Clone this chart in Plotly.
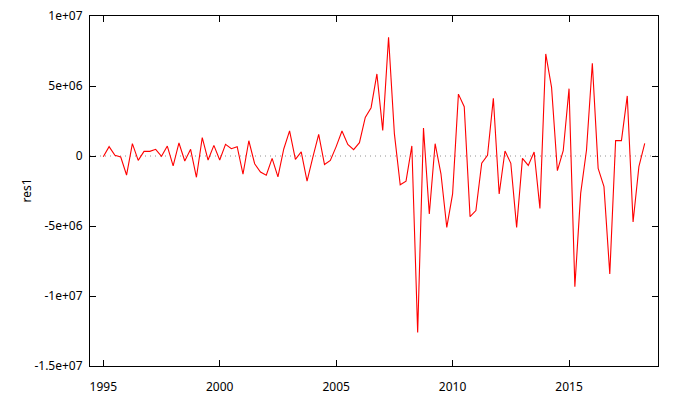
import plotly.graph_objects as go

start_year = 1995
n_quarters = 94
time = [start_year + q / 4 for q in range(n_quarters)]

res1 = [
    -0.05, 0.67, 0.05, -0.07, -1.36, 0.88, -0.31, 0.33, 0.33, 0.48,
    -0.02, 0.71, -0.71, 0.93, -0.36, 0.48, -1.52, 1.31, -0.29, 0.76,
    -0.29, 0.83, 0.52, 0.67, -1.29, 1.09, -0.55, -1.14, -1.37, -0.17,
    -1.49, 0.50, 1.79, -0.24, 0.29, -1.79, -0.08, 1.55, -0.61, -0.32,
    0.67, 1.79, 0.83, 0.45, 0.95, 2.76, 3.45, 5.86, 1.83, 8.48,
    1.60, -2.06, -1.80, 0.72, -12.60, 1.99, -4.14, 0.88, -1.27, -5.10,
    -2.71, 4.42, 3.52, -4.33, -3.90, -0.52, 0.05, 4.12, -2.71, 0.36,
    -0.52, -5.10, -0.17, -0.67, 0.29, -3.74, 7.29, 4.90, -1.05, 0.38,
    4.81, -9.33, -2.67, 0.43, 6.62, -0.88, -2.19, -8.43, 1.10, 1.10,
    4.29, -4.71, -0.76, 0.90,
]
res1 = [v * 1e6 for v in res1]

x_tick_vals = [1995, 2000, 2005, 2010, 2015]
x_tick_text = ["1995", "2000", "2005", "2010", "2015"]
y_tick_vals = [1e7, 5e6, 0, -5e6, -1e7, -1.5e7]
y_tick_text = ["1e+07", "5e+06", "0", "-5e+06", "-1e+07", "-1.5e+07"]

fig = go.Figure()
fig.add_trace(go.Scatter(
    x=time, y=res1, mode="lines",
    line=dict(color="#ff0000", width=1.1),
    showlegend=False, hoverinfo="skip",
))

fig.add_shape(type="line", xref="paper", yref="y", x0=0, x1=1, y0=0, y1=0,
              line=dict(color="#909090", width=1, dash="1px,4px"), layer="below")

axis_common = dict(
    showgrid=False, zeroline=False, showline=True, linecolor="black",
    linewidth=1, mirror="allticks", ticks="inside", ticklen=6,
    tickcolor="black", tickwidth=1, automargin=False,
    ticklabeloverflow="allow",
    tickfont=dict(family="Noto Sans", size=12, color="black"),
)

fig.update_layout(
    width=672, height=392,
    margin=dict(l=82, r=22, t=8, b=34),
    paper_bgcolor="white", plot_bgcolor="white",
    font=dict(family="Noto Sans", size=12, color="black"),
    xaxis=dict(range=[1994.43, 2018.82], tickvals=x_tick_vals,
               ticktext=x_tick_text, ticklabelstandoff=10, **axis_common),
    yaxis=dict(range=[-1.5e7, 1e7], tickvals=y_tick_vals,
               ticktext=y_tick_text, ticklabelstandoff=4, **axis_common),
    annotations=[dict(
        text="res1", xref="paper", yref="paper",
        x=-(90 - 15) / 568, y=0.5, showarrow=False, textangle=-90,
        font=dict(family="Noto Sans", size=12, color="black"),
    )],
)

fig.write_html("out.html")
